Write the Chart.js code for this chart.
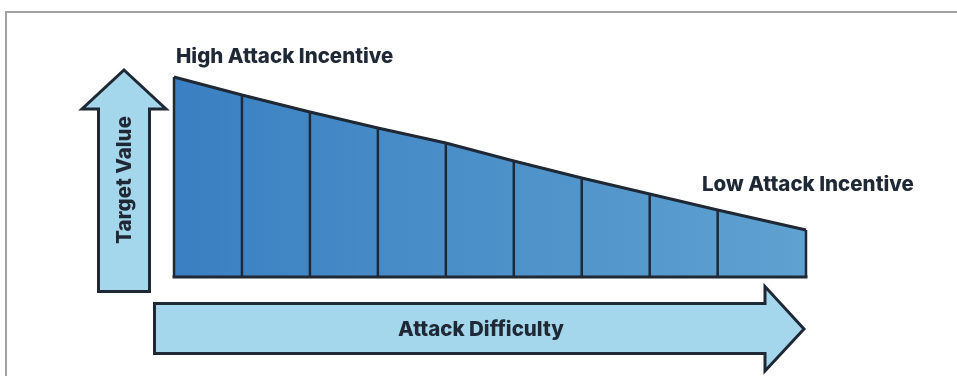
<!DOCTYPE html>
<html lang="en">
<head>
  <meta charset="utf-8" />
  <title>Attack Incentive</title>
  <script src="https://cdn.jsdelivr.net/npm/chart.js@4.4.1/dist/chart.umd.min.js"></script>
  <style>
    html, body { margin: 0; padding: 0; background: #fff; }
    .wrapper { position: relative; width: 957px; height: 376px; overflow: hidden; }
    /* thin grey frame line from the source figure */
    .frame { position: absolute; left: 5px; top: 11px; right: -10px; bottom: -10px;
             border-top: 2px solid #a2a2a2; border-left: 2px solid #a2a2a2; }
    canvas { position: absolute; left: 0; top: 0; }
  </style>
</head>
<body>
  <div class="wrapper">
    <div class="frame"></div>
    <canvas id="chart" width="957" height="376"></canvas>
  </div>

  <script>
    // attack difficulty at each segment boundary (last segment is wider)
    const difficulty = [0, 1, 2, 3, 4, 5, 6, 7, 8, 9.3];
    // target value / incentive at each boundary
    const targetValue = [100, 91, 82.5, 74.5, 67, 58, 49.5, 41.5, 33.5, 23.5];

    const highLabel = "High Attack Incentive";
    const lowLabel = "Low Attack Incentive";
    const yTitle = "Target Value";
    const xTitle = "Attack Difficulty";

    const ink = "#1f2835";
    const arrowFill = "#a4d7ec";
    const font = "800 20.5px Inter, 'Open Sans', sans-serif";

    //gradient from darker blue on the left to lighter on the right
    function areaFill(context) {
      const area = context.chart.chartArea;
      if (!area) return "#4a90c9";
      const g = context.chart.ctx.createLinearGradient(area.left, 0, area.right, 0);
      g.addColorStop(0, "#3a80c2");
      g.addColorStop(1, "#5fa1d0");
      return g;
    }

    //draws the divider lines, bottom edge, the two arrows and the texts
    const decor = {
      id: "decor",
      afterDatasetsDraw(chart) {
        const ctx = chart.ctx;
        const a = chart.chartArea;
        const pts = chart.getDatasetMeta(0).data;
        const bottom = chart.scales.y.getPixelForValue(0);

        ctx.save();
        ctx.strokeStyle = ink;
        ctx.lineWidth = 2.5;
        pts.forEach((p) => {
          ctx.beginPath();
          ctx.moveTo(p.x, p.y);
          ctx.lineTo(p.x, bottom);
          ctx.stroke();
        });
        ctx.lineWidth = 3;
        ctx.beginPath();
        ctx.moveTo(pts[0].x - 1.5, bottom);
        ctx.lineTo(pts[pts.length - 1].x + 1.5, bottom);
        ctx.stroke();

        // vertical arrow (Target Value)
        ctx.fillStyle = arrowFill;
        ctx.lineWidth = 3;
        ctx.lineJoin = "miter";
        const vx = a.left - 50;
        ctx.beginPath();
        ctx.moveTo(vx, 70);
        ctx.lineTo(vx + 42, 109);
        ctx.lineTo(vx + 25.5, 109);
        ctx.lineTo(vx + 25.5, 291.5);
        ctx.lineTo(vx - 25.5, 291.5);
        ctx.lineTo(vx - 25.5, 109);
        ctx.lineTo(vx - 42, 109);
        ctx.closePath();
        ctx.fill();
        ctx.stroke();

        // horizontal arrow (Attack Difficulty)
        const hx = a.left - 19.5;
        const tip = a.right - 2;
        ctx.beginPath();
        ctx.moveTo(hx, 303.5);
        ctx.lineTo(tip - 39, 303.5);
        ctx.lineTo(tip - 39, 286.5);
        ctx.lineTo(tip, 329);
        ctx.lineTo(tip - 39, 371);
        ctx.lineTo(tip - 39, 353.5);
        ctx.lineTo(hx, 353.5);
        ctx.closePath();
        ctx.fill();
        ctx.stroke();

        // texts
        ctx.fillStyle = ink;
        ctx.font = font;
        ctx.textBaseline = "alphabetic";
        ctx.textAlign = "left";
        ctx.fillText(highLabel, a.left + 2, 63);
        ctx.fillText(lowLabel, 702, 191);
        ctx.textAlign = "center";
        ctx.fillText(xTitle, 481, 336);

        ctx.translate(vx + 7, 180);
        ctx.rotate(-Math.PI / 2);
        ctx.fillText(yTitle, 0, 0);
        ctx.restore();
      },
    };

    new Chart(document.getElementById("chart"), {
      type: "line",
      data: {
        datasets: [
          {
            data: difficulty.map((d, i) => ({ x: d, y: targetValue[i] })),
            borderColor: ink,
            borderWidth: 3,
            backgroundColor: areaFill,
            fill: "origin",
            pointRadius: 0,
            tension: 0,
            clip: false,
          },
        ],
      },
      options: {
        responsive: false,
        animation: false,
        layout: { padding: { left: 174, right: 151, top: 77, bottom: 99 } },
        scales: {
          x: { type: "linear", min: 0, max: 9.3, display: false },
          y: { min: 0, max: 100, display: false },
        },
        plugins: {
          legend: { display: false },
          tooltip: { enabled: false },
        },
      },
      plugins: [decor],
    });
  </script>
</body>
</html>
